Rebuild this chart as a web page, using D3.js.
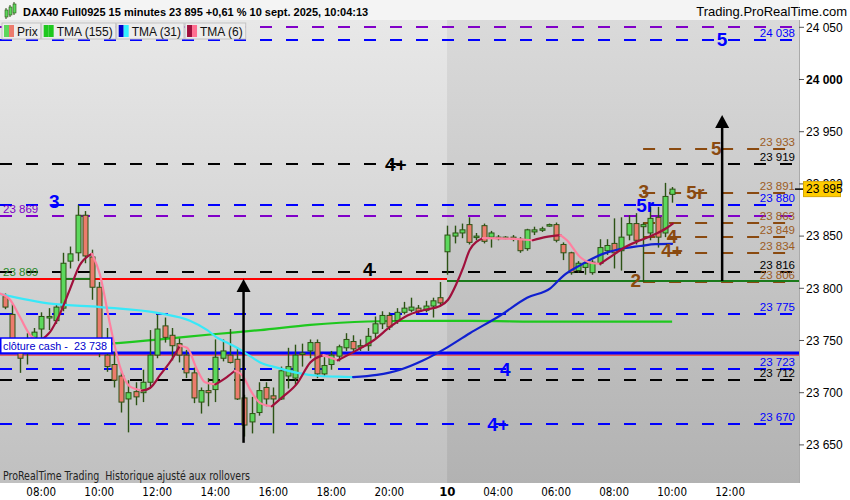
<!DOCTYPE html>
<html>
<head>
<meta charset="utf-8">
<script src="https://cdn.jsdelivr.net/npm/d3@7"></script>
<style>
  body { margin: 0; background: #fff; }
  svg text { font-family: "Liberation Sans", Arial, sans-serif; white-space: pre; }
</style>
</head>
<body>
<div id="chart"></div>
<script>
// bar 0 = 06:45 on the 9th, bar 61 = first bar of the 10th, bar 92 = live 10:00 bar
var tickBars = [5, 13, 21, 29, 37, 45, 53, 61, 68, 76, 84, 92, 100];
var tickLabels = ["08:00", "10:00", "12:00", "14:00", "16:00", "18:00", "20:00", "10", "04:00", "06:00", "08:00", "10:00", "12:00"];
var dayBreakBar = 61;

var opens  = [23792,23775,23748,23741,23753,23761,23772,23769,23781,23826,23834,23870,23830,23801,23736,23727,23716,23694,23701,23700,
              23710,23736,23764,23755,23747,23736,23719,23691,23702,23703,23733,23736,23732,23695,23672,23681,23705,23697,23694,23716,
              23714,23737,23740,23748,23718,23727,23735,23743,23749,23744,23745,23757,23766,23774,23769,23777,23779,23781,23779,23783,
              23791,23835,23850,23853,23861,23849,23860,23849,23849,23848,23849,23847,23838,23854,23856,23860,23861,23842,23834,23817,
              23820,23815,23824,23836,23843,23836,23851,23862,23859,23853,23868,23853,23890];
var highs  = [23795,23785,23751,23757,23762,23777,23781,23785,23834,23840,23880,23874,23837,23806,23762,23739,23720,23712,23710,23722,
              23760,23775,23772,23762,23752,23741,23724,23705,23714,23751,23751,23761,23743,23698,23696,23710,23710,23705,23725,23743,
              23746,23747,23751,23751,23734,23740,23746,23757,23755,23751,23762,23773,23778,23777,23781,23787,23791,23784,23788,23791,
              23806,23860,23860,23862,23868,23853,23862,23855,23851,23850,23851,23849,23857,23859,23859,23862,23863,23844,23835,23826,
              23826,23827,23847,23847,23867,23868,23870,23872,23863,23878,23878,23901,23897];
var lows   = [23780,23743,23719,23727,23750,23751,23760,23766,23778,23819,23826,23824,23789,23734,23720,23705,23681,23662,23688,23691,
              23705,23733,23748,23731,23729,23714,23690,23680,23687,23691,23730,23728,23693,23658,23661,23678,23687,23661,23693,23704,
              23707,23725,23733,23714,23715,23722,23730,23740,23740,23740,23740,23752,23761,23760,23766,23775,23777,23776,23777,23772,
              23784,23813,23843,23848,23842,23846,23843,23839,23846,23847,23845,23834,23836,23851,23854,23859,23844,23827,23813,23815,
              23813,23813,23822,23832,23819,23817,23846,23842,23806,23846,23839,23849,23882];
var closes = [23782,23748,23733,23745,23758,23773,23773,23782,23824,23833,23870,23831,23801,23741,23725,23712,23691,23700,23696,23710,
              23736,23761,23753,23745,23736,23719,23695,23702,23700,23734,23740,23729,23694,23669,23680,23702,23694,23694,23721,23725,
              23736,23738,23748,23718,23726,23736,23744,23751,23742,23745,23754,23766,23774,23763,23777,23781,23782,23778,23783,23788,
              23786,23851,23853,23856,23844,23850,23845,23853,23848,23849,23847,23836,23856,23856,23857,23861,23846,23834,23815,23824,
              23824,23825,23839,23841,23834,23849,23862,23846,23861,23867,23849,23888,23895];

// moving averages as [bar, value]
var tma155 = [[-0.7,23742],[14.5,23747],[21.4,23751],[28.7,23756],[35.2,23760],[42.1,23765],[46.2,23767],[53.1,23768.7],
              [64.1,23768.8],[75.2,23768],[92,23768]];
var tma31  = [[-0.7,23794.5],[6.6,23785],[13.1,23782],[21.4,23776],[25.5,23769],[27.9,23760],[29.2,23753],[30.6,23748],
              [32,23743],[33.8,23735],[35.2,23729],[37.5,23724],[40.3,23719],[43.5,23716],[46.9,23715.2],[48,23715],
              [51.3,23717],[54.5,23722],[57.7,23731],[60.4,23741],[64.1,23757],[68.3,23774],[72,23791],[75.2,23800],
              [77,23812],[79.3,23822],[82.1,23832],[84.8,23837.5],[87.6,23840.5],[89.7,23842.4],[92,23842.6]];
var tma6   = [[-0.7,23795],[0.7,23789],[2.1,23772],[3.5,23755],[4.8,23750],[6.2,23758],[7.6,23776],[9,23800],[10.3,23822],
              [12,23833],[13.1,23813],[14.5,23765],[15.9,23724],[17.2,23706],[18.9,23702],[20,23704.5],[21.4,23717],
              [23.2,23734],[24.1,23745],[25.1,23743],[26.5,23722],[27.6,23710],[29,23708],[30.6,23715],[31.7,23721],
              [32.8,23716],[33.8,23703],[35.2,23690],[36.8,23687],[38.3,23696],[40.3,23709],[42.1,23729],[43.9,23736],
              [45.9,23731],[48.6,23741],[50.8,23750],[53.1,23763],[55.5,23774],[57.7,23779],[60,23783],[61.1,23789],
              [62.3,23805],[63.2,23820],[64.1,23837],[65.9,23848],[68.3,23847.8],[71,23847],[72.8,23846],[74.5,23849],
              [76.6,23851],[77.5,23846],[79.3,23830],[81.1,23824],[82.1,23823.5],[83.9,23832],[85.8,23840.5],[87.6,23846],
              [89.4,23851],[91.3,23858],[92.1,23862]];

// horizontal levels
var blueLevels   = [24038, 23880, 23775, 23723, 23670];
var purpleLevels = [24050, 23869];
var blackLevels  = [23919, 23816, 23712];
var brownLevels  = [23933, 23891, 23863, 23849, 23834, 23806];
var brownStartBar = 88;
var redLevel = 23809, greenLevel = 23807, cashLevel = 23738;
var lastPrice = 23895;

// wave counts: [text, bar, price]
var blackWaves = [["4+", 53.9, 23919], ["4", 50.1, 23818]];
var blueWaves  = [["3", 6.8, 23883], ["5", 98.9, 24038], ["4", 69, 23722], ["4+", 68, 23670], ["5r", 88.3, 23879]];
var brownWaves = [["5", 98.1, 23934], ["3", 88.1, 23893], ["5r", 95.2, 23892], ["4", 92, 23850], ["4+", 92, 23836], ["2", 87, 23807]];

// arrows: [bar, from, to]
var arrows = [[32.9, 23652, 23809], [98.9, 23807, 23966]];

var legendNames = ["Prix", "TMA (155)", "TMA (31)", "TMA (6)"];

var col = {
  blue: "#0000ff", purple: "#8000c8", black: "#000000", brown: "#8a4a10", brownText: "#9c5c24",
  up: "#5cd85c", down: "#ec7b6c", wick: "#2c5214",
  tma155: "#1ec81e", tma31up: "#1020d0", tma31down: "#38e8f8", tma6up: "#a0103c", tma6down: "#ff80a0"
};

var width = 850, height = 500,
    plotLeft = 0, plotRight = 799, plotTop = 20, plotBottom = 483;

var x = d3.scaleLinear().domain([-0.69, 109.5]).range([plotLeft, plotRight]);
var y = d3.scaleLinear().domain([23613.5, 24057]).range([plotBottom, plotTop]);
var fmt = d3.formatLocale({decimal: ",", thousands: " ", grouping: [3], currency: ["", ""]}).format(",d");

var svg = d3.select("#chart").append("svg")
  .attr("width", width)
  .attr("height", height);

var defs = svg.append("defs");
function grad(id, top, bottom) {
  var g = defs.append("linearGradient").attr("id", id).attr("x1", 0).attr("y1", 0).attr("x2", 0).attr("y2", 1);
  g.append("stop").attr("offset", "0%").attr("stop-color", top);
  g.append("stop").attr("offset", "100%").attr("stop-color", bottom);
}
grad("day1", "#e8e8e8", "#c0c0c0");
grad("day2", "#dadada", "#b2b2b2");
defs.append("clipPath").attr("id", "plotClip").append("rect")
  .attr("x", plotLeft).attr("y", plotTop).attr("width", plotRight - plotLeft).attr("height", plotBottom - plotTop);

svg.append("rect").attr("width", width).attr("height", height).attr("fill", "#ffffff");
svg.append("rect").attr("width", plotRight).attr("height", plotTop).attr("fill", "#f4f4f4");

// backgrounds
var dayX = x(dayBreakBar) - 0.3;
svg.append("rect").attr("x", plotLeft).attr("y", plotTop).attr("width", dayX - plotLeft).attr("height", plotBottom - plotTop).attr("fill", "url(#day1)");
svg.append("rect").attr("x", dayX).attr("y", plotTop).attr("width", plotRight - dayX).attr("height", plotBottom - plotTop).attr("fill", "url(#day2)");

var plot = svg.append("g").attr("clip-path", "url(#plotClip)");

// dashed levels
function levels(vals, color, x0) {
  plot.append("g").selectAll("line")
    .data(vals).enter().append("line")
      .attr("x1", x0).attr("x2", 795)
      .attr("y1", function(d) { return Math.round(y(d)); })
      .attr("y2", function(d) { return Math.round(y(d)); })
      .attr("stroke", color)
      .attr("stroke-width", 2)
      .attr("stroke-dasharray", "12,14");
}
levels(purpleLevels, col.purple, 0);
levels(blueLevels, col.blue, 0);
levels(blackLevels, col.black, 0);
levels(brownLevels, col.brown, x(brownStartBar));

// solid levels
plot.append("line").attr("x1", 0).attr("x2", dayX).attr("y1", y(redLevel)).attr("y2", y(redLevel))
  .attr("stroke", "#ff0000").attr("stroke-width", 2);
plot.append("line").attr("x1", x(8)).attr("x2", x(12)).attr("y1", y(redLevel)).attr("y2", y(redLevel))
  .attr("stroke", "#1a7a1a").attr("stroke-width", 2);
plot.append("line").attr("x1", dayX).attr("x2", plotRight).attr("y1", y(greenLevel)).attr("y2", y(greenLevel))
  .attr("stroke", "#1a7a1a").attr("stroke-width", 2);
plot.append("line").attr("x1", 0).attr("x2", plotRight).attr("y1", y(cashLevel) + 2).attr("y2", y(cashLevel) + 2)
  .attr("stroke", "#ff0000").attr("stroke-width", 1);
plot.append("line").attr("x1", 0).attr("x2", plotRight).attr("y1", y(cashLevel)).attr("y2", y(cashLevel))
  .attr("stroke", "#0000ff").attr("stroke-width", 3);

// moving average 155
var line = d3.line()
  .x(function(p) { return x(p[0]); })
  .y(function(p) { return y(p[1]); })
  .curve(d3.curveMonotoneX);

plot.append("path").attr("d", line(tma155)).attr("fill", "none")
  .attr("stroke", col.tma155).attr("stroke-width", 2.2);

// candles
var candles = d3.range(opens.length).map(function(i) {
  return {bar: i, o: opens[i], h: highs[i], l: lows[i], c: closes[i]};
});
var cg = plot.append("g").selectAll("g").data(candles).enter().append("g");
cg.append("line")
  .attr("x1", function(d) { return Math.round(x(d.bar)) + 0.5; })
  .attr("x2", function(d) { return Math.round(x(d.bar)) + 0.5; })
  .attr("y1", function(d) { return y(d.h); })
  .attr("y2", function(d) { return y(d.l); })
  .attr("stroke", col.wick).attr("stroke-width", 1.4);
cg.append("rect")
  .attr("x", function(d) { return Math.round(x(d.bar)) - 2; })
  .attr("width", 5)
  .attr("y", function(d) { return y(Math.max(d.o, d.c)); })
  .attr("height", function(d) { return Math.max(1.5, Math.abs(y(d.o) - y(d.c))); })
  .attr("fill", function(d) { return d.c >= d.o ? col.up : col.down; })
  .attr("stroke", col.wick).attr("stroke-width", 1);

// rising / falling stretches get their own colour
function runs(points) {
  var out = [], cur = [points[0]], dir = null;
  for (var k = 1; k < points.length; k++) {
    var d = points[k][1] > points[k - 1][1] ? "up" : (points[k][1] < points[k - 1][1] ? "down" : dir);
    if (dir !== null && d !== dir) { out.push({dir: dir, pts: cur}); cur = [points[k - 1]]; }
    dir = d;
    cur.push(points[k]);
  }
  out.push({dir: dir, pts: cur});
  return out;
}
function maLine(pts, upColor, downColor) {
  plot.append("g").selectAll("path").data(runs(pts)).enter().append("path")
    .attr("d", function(r) { return line(r.pts); })
    .attr("fill", "none")
    .attr("stroke", function(r) { return r.dir === "up" ? upColor : downColor; })
    .attr("stroke-width", 2.2)
    .attr("stroke-linecap", "round");
}
maLine(tma31, col.tma31up, col.tma31down);
maLine(tma6, col.tma6up, col.tma6down);

// right side level labels
function levelLabels(vals, color) {
  svg.append("g").selectAll("text").data(vals).enter().append("text")
    .attr("x", 795)
    .attr("y", function(d) { return y(d) - 3; })
    .attr("text-anchor", "end")
    .style("font-size", "11.5px")
    .attr("fill", color)
    .text(function(d) { return fmt(d); });
}
levelLabels(blueLevels, col.blue);
levelLabels(blackLevels, col.black);
levelLabels(brownLevels, col.brownText);

// left labels
svg.append("text").attr("x", 3).attr("y", y(purpleLevels[1]) - 3).style("font-size", "11.5px")
  .attr("fill", col.purple).text(fmt(purpleLevels[1]));
svg.append("text").attr("x", 3).attr("y", y(redLevel) - 3).style("font-size", "11.5px")
  .attr("fill", "#2a8a2a").text(fmt(redLevel));

// wave counts
function waves(list, color) {
  svg.append("g").selectAll("text").data(list).enter().append("text")
    .attr("x", function(d) { return x(d[1]); })
    .attr("y", function(d) { return y(d[2]); })
    .attr("text-anchor", "middle")
    .attr("dominant-baseline", "central")
    .style("font-size", "19px")
    .style("font-weight", "bold")
    .attr("fill", color)
    .text(function(d) { return d[0]; });
}
waves(blackWaves, col.black);
waves(blueWaves, col.blue);
waves(brownWaves, col.brown);

// arrows
var ag = svg.append("g").selectAll("g").data(arrows).enter().append("g");
ag.append("line")
  .attr("x1", function(d) { return x(d[0]); }).attr("x2", function(d) { return x(d[0]); })
  .attr("y1", function(d) { return y(d[1]); }).attr("y2", function(d) { return y(d[2]) + 10; })
  .attr("stroke", "#000").attr("stroke-width", 2.5);
ag.append("path")
  .attr("d", function(d) {
    var cx = x(d[0]), ty = y(d[2]);
    return "M" + cx + "," + ty + "L" + (cx - 7) + "," + (ty + 13) + "L" + (cx + 7) + "," + (ty + 13) + "Z";
  })
  .attr("fill", "#000");

// cash close tag
svg.append("rect").attr("x", 0.75).attr("y", y(cashLevel) - 15).attr("width", 111).attr("height", 15)
  .attr("fill", "#fff").attr("stroke", "#0000ff").attr("stroke-width", 1.5);
svg.append("text").attr("x", 3).attr("y", y(cashLevel) - 3.5).style("font-size", "11.5px")
  .attr("textLength", 104).attr("lengthAdjust", "spacingAndGlyphs")
  .attr("fill", "#0000cc").text("clôture cash -\u00a0 " + fmt(cashLevel));

// footer note
svg.append("text").attr("x", 3).attr("y", 480)
  .style("font-family", "'Liberation Sans Narrow', 'DejaVu Sans Condensed', sans-serif")
  .style("font-size", "11.5px").attr("fill", "#222")
  .attr("textLength", 247).attr("lengthAdjust", "spacingAndGlyphs")
  .text("ProRealTime Trading\u00a0 Historique ajusté aux rollovers");

// price axis
svg.append("line").attr("x1", plotRight + 0.5).attr("x2", plotRight + 0.5).attr("y1", plotTop).attr("y2", plotBottom)
  .attr("stroke", "#aaaaaa");
var yTicks = d3.range(23650, 24051, 50);
var yt = svg.append("g").selectAll("g").data(yTicks).enter().append("g")
  .attr("transform", function(d) { return "translate(0," + y(d) + ")"; });
yt.append("line").attr("x1", plotRight).attr("x2", plotRight + 5).attr("stroke", "#555");
yt.append("text").attr("x", plotRight + 7).attr("dy", "0.35em")
  .style("font-size", "12px")
  .style("font-weight", function(d) { return d % 1000 === 0 ? "bold" : "normal"; })
  .attr("fill", "#000")
  .text(function(d) { return fmt(d); });

// last price tag
svg.append("line").attr("x1", plotRight - 4).attr("x2", plotRight + 4).attr("y1", y(lastPrice)).attr("y2", y(lastPrice))
  .attr("stroke", "#000").attr("stroke-width", 1.5);
svg.append("rect").attr("x", plotRight + 4.5).attr("y", y(lastPrice) - 7.5).attr("width", 37).attr("height", 15)
  .attr("fill", "#ffcc00").attr("stroke", "#d8a800");
svg.append("text").attr("x", plotRight + 7).attr("y", y(lastPrice)).attr("dy", "0.35em")
  .style("font-size", "12px").attr("fill", "#000").text(fmt(lastPrice));

// time axis
svg.append("g").selectAll("text").data(tickBars).enter().append("text")
  .attr("x", function(d) { return x(d); })
  .attr("y", 496)
  .attr("text-anchor", "middle")
  .style("font-family", "'Liberation Sans Narrow', 'DejaVu Sans Condensed', sans-serif")
  .style("font-size", function(d, i) { return tickLabels[i] === "10" ? "13px" : "11.5px"; })
  .style("font-weight", function(d, i) { return tickLabels[i] === "10" ? "bold" : "normal"; })
  .attr("fill", "#000")
  .text(function(d, i) { return tickLabels[i]; });

// title bar
var icon = svg.append("g");
[[5, 10, 7], [9, 7, 8], [13, 4, 9]].forEach(function(c) {
  icon.append("line").attr("x1", c[0] + 1).attr("x2", c[0] + 1).attr("y1", c[1] - 2).attr("y2", c[1] + c[2] + 2).attr("stroke", "#2c5214");
  icon.append("rect").attr("x", c[0]).attr("y", c[1]).attr("width", 3).attr("height", c[2]).attr("fill", "#5cd85c").attr("stroke", "#2c5214").attr("stroke-width", 0.6);
});
svg.append("text").attr("x", 23).attr("y", 16).style("font-size", "11px").style("font-weight", "bold")
  .attr("fill", "#000").text("DAX40 Full0925 15 minutes " + fmt(lastPrice) + " +0,61 % 10 sept. 2025, 10:04:13");
svg.append("text").attr("x", 847).attr("y", 16).attr("text-anchor", "end").style("font-size", "13px")
  .attr("fill", "#000").text("Trading.ProRealTime.com");

// legend
var swatches = [[col.up, col.down], [col.tma155, col.tma155], ["#0000cc", "#33f0ff"], ["#a0103c", "#ff6f90"]];
var lx = 2;
legendNames.forEach(function(name, i) {
  var g = svg.append("g").attr("transform", "translate(" + lx + ",23)");
  var box = g.append("rect").attr("height", 16).attr("fill", "#ececec").attr("stroke", "#c4c4c4");
  g.append("rect").attr("x", 2).attr("y", 2).attr("width", 5).attr("height", 12).attr("fill", swatches[i][0]);
  g.append("rect").attr("x", 7).attr("y", 2).attr("width", 5).attr("height", 12).attr("fill", swatches[i][1]);
  var t = g.append("text").attr("x", 15).attr("y", 12.5).style("font-size", "12px").attr("fill", "#111").text(name);
  var w = t.node().getComputedTextLength() + 18;
  box.attr("width", w);
  lx += w + 1;
});
</script>
</body>
</html>
